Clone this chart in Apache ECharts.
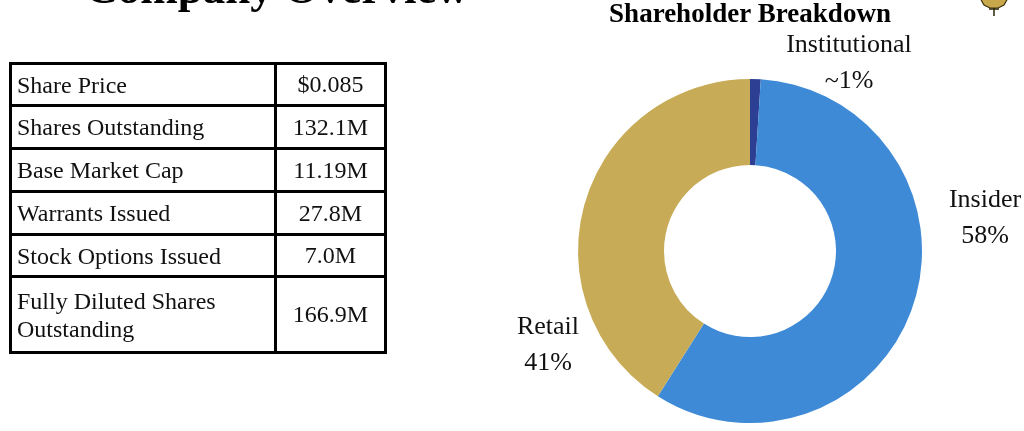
<!DOCTYPE html>
<html>
<head>
<meta charset="utf-8">
<title>Company Overview</title>
<script src="https://cdn.jsdelivr.net/npm/echarts@6/dist/echarts.min.js"></script>
<style>
  html, body { margin: 0; padding: 0; background: #fff; }
  #wrap { position: relative; width: 1024px; height: 431px; overflow: hidden; }
  #chart { position: absolute; left: 0; top: 0; width: 1024px; height: 431px; }
  #facts {
    position: absolute; left: 9px; top: 62px;
    border-collapse: separate; border-spacing: 0;
    border-top: 3px solid #000; border-left: 3px solid #000;
    table-layout: fixed;
    font-family: "Liberation Serif", "Times New Roman", serif;
    font-size: 24px; color: #111;
  }
  #facts td {
    box-sizing: border-box; padding: 0;
    border-right: 3px solid #000; border-bottom: 3px solid #000;
    vertical-align: middle; white-space: nowrap;
  }
  #facts td.k { width: 265px; padding-left: 5px; line-height: 28px; }
  #facts td.v { width: 110px; text-align: center; }
</style>
</head>
<body>
<div id="wrap">
  <div id="chart"></div>
  <table id="facts"><tbody></tbody></table>
</div>
<script>
// table rows
const factNames = ['Share Price', 'Shares Outstanding', 'Base Market Cap', 'Warrants Issued',
  'Stock Options Issued', 'Fully Diluted Shares\nOutstanding'];
const factValues = ['$0.085', '132.1M', '11.19M', '27.8M', '7.0M', '166.9M'];

// donut
const holderNames = ['Institutional', 'Insider', 'Retail'];
const holderShares = [1, 58, 41];
const holderLabels = ['~1%', '58%', '41%'];

const colors = {
  institutional: '#2C3F93',
  insider: '#3E8AD7',
  retail: '#C7AB57',
  text: '#111111',
  gold: '#C9A84C'
};

const serif = '"Liberation Serif", "Times New Roman", serif';
const rowHeights = [42, 43, 43, 43, 42, 76];
const labelSpots = [[849, 63], [985, 218], [548, 345]];

// build the table
const tbody = document.querySelector('#facts tbody');
factNames.forEach((name, i) => {
  const tr = document.createElement('tr');
  const k = document.createElement('td');
  k.className = 'k';
  k.style.height = rowHeights[i] + 'px';
  k.innerHTML = name.split('\n').join('<br>');
  const v = document.createElement('td');
  v.className = 'v';
  v.style.height = rowHeights[i] + 'px';
  v.textContent = factValues[i];
  tr.appendChild(k);
  tr.appendChild(v);
  tbody.appendChild(tr);
});

const chart = echarts.init(document.getElementById('chart'), null, { renderer: 'canvas' });
chart.setOption({
  animation: false,
  graphic: [
    {
      type: 'text', x: 277, y: -9,
      style: { text: 'Company Overview', font: 'bold 45px ' + serif, fill: '#000',
        align: 'center', verticalAlign: 'middle' }
    },
    {
      type: 'text', x: 750, y: 15,
      style: { text: 'Shareholder Breakdown', font: 'bold 27px ' + serif, fill: '#000',
        align: 'center', verticalAlign: 'middle' }
    },
    // logo fragment, top right corner
    {
      type: 'polygon',
      shape: { points: [[980, -2], [984, 5], [990, 8], [998, 8], [1004, 5], [1008, -2]] },
      style: { fill: colors.gold, stroke: '#3b3210', lineWidth: 1.2 }
    },
    {
      type: 'polyline',
      shape: { points: [[989, 9], [999, 9]] },
      style: { stroke: '#2e2608', lineWidth: 1.5 }
    },
    {
      type: 'polyline',
      shape: { points: [[994, 8], [994, 16]] },
      style: { stroke: '#2e2608', lineWidth: 1.5 }
    }
  ],
  series: [{
    type: 'pie',
    center: [750, 251],
    radius: [86, 172],
    startAngle: 90,
    clockwise: true,
    silent: true,
    itemStyle: { borderWidth: 0 },
    labelLine: { show: false },
    label: {
      show: true,
      position: 'outside',
      formatter: p => p.name + '\n' + holderLabels[p.dataIndex],
      fontFamily: serif,
      fontSize: 26,
      lineHeight: 36,
      color: colors.text,
      align: 'center',
      overflow: 'none',
      width: 160
    },
    labelLayout: p => ({
      x: labelSpots[p.dataIndex][0],
      y: labelSpots[p.dataIndex][1],
      align: 'center',
      verticalAlign: 'middle'
    }),
    data: holderNames.map((n, i) => ({
      name: n,
      value: holderShares[i],
      itemStyle: { color: [colors.institutional, colors.insider, colors.retail][i] }
    }))
  }]
});
</script>
</body>
</html>
